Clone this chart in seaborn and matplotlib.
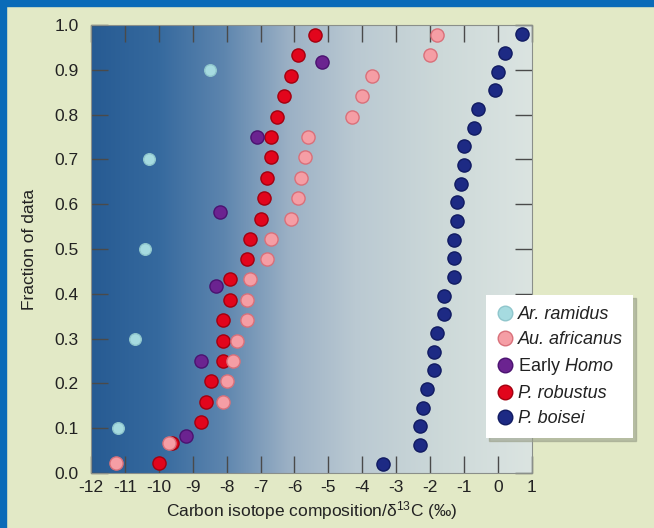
import numpy as np
import pandas as pd
import matplotlib
matplotlib.use('Agg')
import matplotlib.pyplot as plt
from matplotlib.colors import LinearSegmentedColormap
from matplotlib.lines import Line2D
from matplotlib.patches import Rectangle
import seaborn as sns

# values (x = d13C in permil, y = fraction of data)
ramidus_x = [-11.2, -10.7, -10.4, -10.3, -8.5]
ramidus_y = [0.10, 0.30, 0.50, 0.70, 0.90]

africanus_x = [-11.25, -9.7, -8.1, -8.0, -7.8, -7.7, -7.4, -7.4, -7.3, -6.8, -6.7,
               -6.1, -5.9, -5.8, -5.7, -5.6, -4.3, -4.0, -3.7, -2.0, -1.8]
africanus_y = [0.023, 0.068, 0.159, 0.205, 0.25, 0.295, 0.341, 0.386, 0.432, 0.477, 0.523,
               0.568, 0.614, 0.659, 0.705, 0.75, 0.795, 0.841, 0.886, 0.932, 0.977]

homo_x = [-9.2, -8.75, -8.3, -8.2, -7.1, -5.2]
homo_y = [0.083, 0.25, 0.417, 0.583, 0.75, 0.917]

robustus_x = [-10.0, -9.6, -8.75, -8.6, -8.45, -8.1, -8.1, -8.1, -7.9, -7.9, -7.4,
              -7.3, -7.0, -6.9, -6.8, -6.7, -6.7, -6.5, -6.3, -6.1, -5.9, -5.4]
robustus_y = [0.023, 0.068, 0.114, 0.159, 0.205, 0.25, 0.295, 0.341, 0.386, 0.432, 0.477,
              0.523, 0.568, 0.614, 0.659, 0.705, 0.75, 0.795, 0.841, 0.886, 0.932, 0.977]

boisei_x = [-3.4, -2.3, -2.3, -2.2, -2.1, -1.9, -1.9, -1.8, -1.6, -1.6, -1.3, -1.3,
            -1.3, -1.2, -1.2, -1.1, -1.0, -1.0, -0.7, -0.6, -0.1, 0.0, 0.2, 0.7]
boisei_y = [0.021, 0.063, 0.104, 0.146, 0.188, 0.229, 0.271, 0.313, 0.354, 0.396, 0.438, 0.479,
            0.521, 0.563, 0.604, 0.646, 0.688, 0.729, 0.771, 0.813, 0.854, 0.896, 0.938, 0.979]

species = ['Ar. ramidus', 'Au. africanus', 'Early Homo', 'P. robustus', 'P. boisei']
legend_labels = ['Ar. ramidus', 'Au. africanus', 'Early $\\mathit{Homo}$', 'P. robustus', 'P. boisei']
face_colors = ['#a6dbe0', '#f59ea5', '#6b2390', '#e2051c', '#1d2a84']
edge_colors = ['#8fc6cc', '#d9707a', '#4b1270', '#a3000f', '#111b62']
marker_sizes = [70, 90, 90, 90, 90]

x_ticks = list(range(-12, 2))
y_ticks = [0.0, 0.1, 0.2, 0.3, 0.4, 0.5, 0.6, 0.7, 0.8, 0.9, 1.0]

df = pd.concat([
    pd.DataFrame({'species': 'Ar. ramidus', 'd13C': ramidus_x, 'frac': ramidus_y}),
    pd.DataFrame({'species': 'Au. africanus', 'd13C': africanus_x, 'frac': africanus_y}),
    pd.DataFrame({'species': 'Early Homo', 'd13C': homo_x, 'frac': homo_y}),
    pd.DataFrame({'species': 'P. robustus', 'd13C': robustus_x, 'frac': robustus_y}),
    pd.DataFrame({'species': 'P. boisei', 'd13C': boisei_x, 'frac': boisei_y}),
], ignore_index=True)

sns.set_style('ticks')
plt.rcParams['font.family'] = ['Liberation Sans', 'DejaVu Sans']
plt.rcParams['mathtext.fontset'] = 'custom'
plt.rcParams['mathtext.rm'] = 'Liberation Sans'
plt.rcParams['mathtext.it'] = 'Liberation Sans:italic'

fig = plt.figure(figsize=(6.54, 5.28), dpi=100)
fig.patch.set_facecolor('#e2e9c6')
ax = fig.add_axes([0.139, 0.1042, 0.6743, 0.8485])

# blue frame strips at top and left
fig.patches.append(Rectangle((0, 1 - 6 / 528), 1, 6 / 528, transform=fig.transFigure,
                             color='#0a6bb8', zorder=5))
fig.patches.append(Rectangle((0, 0), 6 / 654, 1, transform=fig.transFigure,
                             color='#0a6bb8', zorder=5))

# background gradient
grad_cmap = LinearSegmentedColormap.from_list('bg', [
    (0.0, '#275b93'), (0.15, '#35699e'), (0.3, '#5d85ae'), (0.45, '#9cb1c5'),
    (0.6, '#bac9d2'), (0.8, '#cdd9d9'), (1.0, '#dbe4e1')])
ax.imshow(np.linspace(0, 1, 256).reshape(1, -1), cmap=grad_cmap, aspect='auto',
          extent=(-12, 1, 0, 1), zorder=0)

draw_order = ['Ar. ramidus', 'P. robustus', 'Au. africanus', 'Early Homo', 'P. boisei']
for sp in draw_order:
    i = species.index(sp)
    sns.scatterplot(data=df[df['species'] == sp], x='d13C', y='frac', ax=ax,
                    color=face_colors[i], edgecolor=edge_colors[i], linewidth=1,
                    s=marker_sizes[i], zorder=3, legend=False)

ax.set_xlim(-12, 1)
ax.set_ylim(0, 1)
ax.set_xticks(x_ticks)
ax.set_xticklabels([str(t) for t in x_ticks])
ax.set_yticks(y_ticks)
ax.set_yticklabels([f'{t:.1f}' for t in y_ticks])
ax.tick_params(direction='in', length=12, width=1, color='#4a4a4a', top=True, right=True,
               labelsize=12.5, labelcolor='#222222')
ax.tick_params(axis='y', pad=9)
ax.tick_params(axis='x', pad=5)
for side in ['top', 'right', 'bottom', 'left']:
    ax.spines[side].set_color('#8a8f8a')
    ax.spines[side].set_linewidth(0.8)

ax.set_xlabel('Carbon isotope composition/δ$^{13}$C (‰)', fontsize=12.5, color='#222222', labelpad=3)
ax.set_ylabel('Fraction of data', fontsize=12.5, color='#222222', labelpad=12)

handles = [Line2D([], [], marker='o', linestyle='none', markersize=10.5,
                  markerfacecolor=face_colors[i], markeredgecolor=edge_colors[i],
                  markeredgewidth=1) for i in range(len(species))]
leg = ax.legend(handles, legend_labels, loc='upper left', bbox_to_anchor=(486 / 654, 1 - 295 / 528),
                bbox_transform=fig.transFigure, fontsize=13, frameon=True, fancybox=False,
                shadow={'color': '#9aa08a', 'alpha': 0.6}, handlelength=0.9, handletextpad=0.25,
                labelspacing=0.45, borderpad=0.6, borderaxespad=0)
leg.get_frame().set_facecolor('white')
leg.get_frame().set_edgecolor('none')
leg.get_frame().set_alpha(1)
leg.set_zorder(10)
for txt, lab in zip(leg.get_texts(), species):
    if lab != 'Early Homo':
        txt.set_fontstyle('italic')
    txt.set_color('#222222')

plt.savefig('out.png', dpi=100, facecolor=fig.get_facecolor())
plt.close()
